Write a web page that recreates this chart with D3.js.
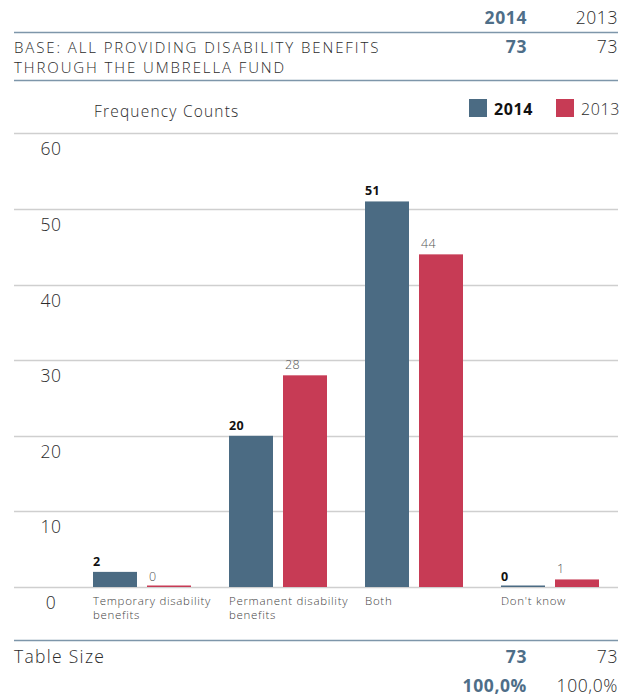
<!DOCTYPE html>
<html>
<head>
<meta charset="utf-8">
<script src="https://cdn.jsdelivr.net/npm/d3@7"></script>
<style>
  html, body { margin: 0; padding: 0; background: #fff; }
  svg { display: block; font-family: "Open Sans", "Lato", sans-serif; }
</style>
</head>
<body>
<svg id="chart" width="632" height="700"></svg>
<script>
// Data
const categories = [
  ["Temporary disability", "benefits"],
  ["Permanent disability", "benefits"],
  ["Both"],
  ["Don't know"]
];
const seriesNames = ["2014", "2013"];
const values2014 = [2, 20, 51, 0];
const values2013 = [0, 28, 44, 1];
const yTicks = [0, 10, 20, 30, 40, 50, 60];
const baseLabel = ["BASE: ALL PROVIDING DISABILITY BENEFITS", "THROUGH THE UMBRELLA FUND"];
const baseCounts = [73, 73];
const tableSizes = [73, 73];
const tablePercents = ["100,0%", "100,0%"];

const C14 = "#4b6b83";
const C13 = "#c73b55";
const TXT = "#2b2b2b";
const HEAD_BLUE = "#4e6e88";
const RULE = "#7e96aa";

const svg = d3.select("#chart");

// Shared style for the two year columns of the header and footer tables
function yearCell(sel, size) {
  return sel.attr("x", (d, i) => colX[i])
    .attr("text-anchor", "end")
    .attr("font-size", size)
    .attr("letter-spacing", 0.6)
    .attr("font-weight", (d, i) => i === 0 ? 700 : 300)
    .attr("fill", (d, i) => i === 0 ? HEAD_BLUE : TXT)
    .text(d => d);
}

// Header table
const colX = [527, 618];
yearCell(svg.selectAll("text.colhead").data(seriesNames).join("text").attr("y", 24), 17.5);

svg.append("line").attr("x1", 14).attr("x2", 618).attr("y1", 32.5).attr("y2", 32.5)
  .attr("stroke", RULE).attr("stroke-width", 1.5);

svg.selectAll("text.base").data(baseLabel).join("text")
  .attr("x", 14).attr("y", (d, i) => 53 + i * 20)
  .attr("font-size", 15).attr("letter-spacing", 1.9)
  .attr("fill", TXT).attr("font-weight", 300)
  .text(d => d);

yearCell(svg.selectAll("text.basen").data(baseCounts).join("text").attr("y", 53), 17.5);

svg.append("line").attr("x1", 14).attr("x2", 618).attr("y1", 80.5).attr("y2", 80.5)
  .attr("stroke", RULE).attr("stroke-width", 1.5);

// Chart title and legend
svg.append("text").attr("x", 94).attr("y", 117)
  .attr("font-size", 15.5).attr("letter-spacing", 1.2)
  .attr("fill", TXT).attr("font-weight", 300)
  .text("Frequency Counts");

const legendX = [469, 556];
const legend = svg.selectAll("g.legend").data(seriesNames).join("g")
  .attr("transform", (d, i) => `translate(${legendX[i]},99)`);
legend.append("rect").attr("width", 18).attr("height", 18)
  .attr("fill", (d, i) => i === 0 ? C14 : C13);
legend.append("text").attr("x", 25).attr("y", 16)
  .attr("font-size", 16).attr("letter-spacing", 0.6)
  .attr("font-weight", (d, i) => i === 0 ? 700 : 300)
  .attr("fill", (d, i) => i === 0 ? "#111" : TXT)
  .text(d => d);

// Scales
const y = d3.scaleLinear().domain([0, 60]).range([587, 133.4]);
const x0 = d3.scaleBand().domain(d3.range(categories.length))
  .range([93, 599]).paddingInner(38 / 136).paddingOuter(0);
const x1 = d3.scaleBand().domain(seriesNames).range([0, x0.bandwidth()]).paddingInner(10 / 54);

// Gridlines
svg.append("g").selectAll("line").data(yTicks).join("line")
  .attr("x1", 14).attr("x2", 618)
  .attr("y1", d => Math.round(y(d)) + 0.5).attr("y2", d => Math.round(y(d)) + 0.5)
  .attr("stroke", "#cfcfcf").attr("stroke-width", 1.5);

// Y axis labels, set just under each gridline
svg.append("g").selectAll("text").data(yTicks).join("text")
  .attr("x", 51).attr("y", d => y(d) + 22)
  .attr("text-anchor", "middle")
  .attr("font-size", 17.5).attr("letter-spacing", 0.5)
  .attr("font-weight", 300).attr("fill", TXT)
  .text(d => d);

// Bars
const rows = categories.map((c, i) => ({ i, v: [values2014[i], values2013[i]] }));
const groups = svg.append("g").selectAll("g").data(rows).join("g")
  .attr("transform", d => `translate(${x0(d.i)},0)`);

const barData = d => seriesNames.map((s, k) => ({ s, k, v: d.v[k] }));
groups.selectAll("rect").data(barData).join("rect")
  .attr("x", d => x1(d.s))
  .attr("width", x1.bandwidth())
  .attr("y", d => Math.min(y(d.v), y(0) - 1.5))
  .attr("height", d => Math.max(y(0) - y(d.v), 1.5))
  .attr("fill", d => d.k === 0 ? C14 : C13);

groups.selectAll("text.val").data(barData).join("text")
  .attr("class", "val")
  .attr("x", d => x1(d.s) + (d.k === 0 ? 0 : 2))
  .attr("y", d => y(d.v) - 6)
  .attr("font-size", 12.5).attr("letter-spacing", 0.4)
  .attr("font-weight", d => d.k === 0 ? 700 : 300)
  .attr("fill", d => d.k === 0 ? "#111" : "#555")
  .text(d => d.v);

// Category labels
groups.append("text")
  .attr("x", 0).attr("y", 605)
  .attr("font-size", 11.5).attr("letter-spacing", 0.7)
  .attr("fill", "#444").attr("font-weight", 300)
  .selectAll("tspan").data(d => categories[d.i]).join("tspan")
  .attr("x", 0).attr("dy", (d, j) => j === 0 ? 0 : 14)
  .text(d => d);

// Footer table
svg.append("line").attr("x1", 14).attr("x2", 618).attr("y1", 640.5).attr("y2", 640.5)
  .attr("stroke", RULE).attr("stroke-width", 1.5);

svg.append("text").attr("x", 14).attr("y", 663)
  .attr("font-size", 17.5).attr("letter-spacing", 1.3)
  .attr("font-weight", 300).attr("fill", TXT)
  .text("Table Size");

yearCell(svg.selectAll("text.tsize").data(tableSizes).join("text").attr("y", 663), 17.5);
yearCell(svg.selectAll("text.tpct").data(tablePercents).join("text").attr("y", 692), 17.5);
</script>
</body>
</html>
